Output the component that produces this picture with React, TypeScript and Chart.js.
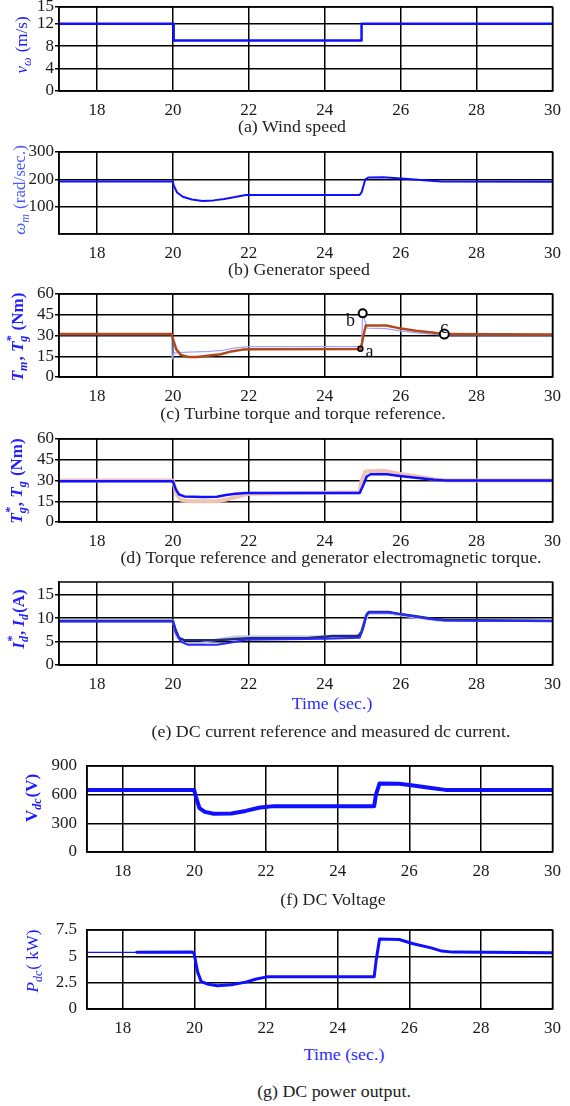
import React, { useEffect, useRef } from "react";
import { Chart, registerables } from "chart.js";

Chart.register(...registerables);

const SERIF = '"Liberation Serif", "Times New Roman", Times, serif';

// ---------------- data ----------------
const timeTicks = [18, 20, 22, 24, 26, 28, 30];

// (a) wind speed
const windT = [17, 20.02, 20.02, 24.97, 24.97, 30];
const windV = [12, 12, 9, 9, 12, 12];
const windTicks = [0, 4, 8, 12, 15];

// (b) generator speed
const speedT = [17, 20.0, 20.02, 20.11, 20.26, 20.5, 20.78, 21.07, 21.35, 21.64, 21.92, 24.92, 24.97, 25.07, 25.16, 25.54, 25.83, 26.2, 26.69, 27.07, 30];
const speedV = [192, 192, 178, 152, 136, 126, 121, 123, 128, 135, 143, 143, 152, 200, 207, 208, 205, 201, 196, 192, 191];
const speedTicks = [100, 200, 300];

// (c) turbine torque (brown) and torque reference (light blue)
const tmT = [17, 19.97, 20.02, 20.09, 20.21, 20.4, 20.64, 20.97, 21.26, 21.54, 21.83, 22.11, 24.95, 25.02, 25.08, 25.62, 25.92, 26.4, 26.88, 27.15, 30];
const tmV = [31, 31, 26, 20, 16, 14.5, 14.5, 15.5, 16.5, 18.5, 19.8, 20, 20.3, 30, 37.2, 37.2, 35.5, 33.5, 32, 31, 30.8];
const tgRefT = [17, 19.97, 19.98, 20.04, 20.4, 20.97, 21.35, 21.64, 22.02, 24.97, 25.0, 25.12, 25.62, 25.92, 26.4, 26.88, 27.1, 30];
const tgRefV = [30.7, 30.7, 13, 17.5, 18, 18.5, 19.5, 21, 22, 22, 46, 35.3, 35, 33.5, 32, 30.8, 30.5, 30.5];
const torqueTicks = [0, 15, 30, 45, 60];
const markT = [24.94, 25.0, 27.15];
const markV = [20.4, 46, 31];
const markText = ["a", "b", "c"];
const markTextT = [25.18, 24.68, 27.15];
const markTextV = [18, 40, 35.5];

// (d) torque reference (pink) and generator torque (blue)
const tgT = [17, 20.0, 20.07, 20.16, 20.3, 20.78, 21.16, 21.4, 21.64, 21.92, 24.92, 25.02, 25.11, 25.21, 25.64, 25.92, 26.4, 26.88, 27.16, 30];
const tgV = [29.5, 29.5, 24, 20, 18.5, 18, 18.2, 19.5, 20.5, 21, 21, 27, 33, 34.5, 34.5, 33.5, 32, 30.5, 30, 30];
const tgStarT = [17, 20.0, 20.1, 20.21, 20.4, 21.16, 21.45, 21.73, 22.02, 24.92, 24.97, 25.07, 25.54, 25.92, 26.4, 26.88, 27.26, 30];
const tgStarV = [30, 30, 20, 16, 15, 15, 16.5, 18.5, 20.5, 21.5, 30, 36.5, 37, 35, 33, 31, 30, 30];

// (e) dc current reference (navy), measured (blue), and light trace
const idRefT = [17, 20.0, 20.07, 20.16, 20.3, 21.16, 21.54, 22.02, 23.54, 23.83, 24.21, 24.88, 24.97, 25.09, 25.16, 25.69, 26.02, 26.4, 26.78, 27.16, 30];
const idRefV = [9.4, 9.4, 7.5, 5.8, 5.3, 5.3, 5.5, 5.7, 5.7, 5.9, 6.2, 6.2, 7, 10.5, 11.3, 11.3, 10.8, 10.4, 9.9, 9.6, 9.4];
const idT = [17, 20.0, 20.07, 20.21, 20.4, 21.16, 21.54, 21.92, 24.02, 24.92, 25.02, 25.11, 25.21, 25.69, 26.02, 26.4, 26.78, 27.16, 30];
const idV = [9.3, 9.3, 7, 5, 4.3, 4.3, 4.8, 5.4, 5.6, 5.8, 8, 11, 11.2, 11.2, 10.8, 10.3, 9.8, 9.5, 9.4];
const idGrayT = [17, 20.0, 20.1, 20.3, 20.7, 21.2, 21.6, 22.0, 24.9, 25.05, 25.15, 25.7, 26.0, 27.0, 30];
const idGrayV = [9.5, 9.5, 6, 4.6, 4.6, 5.5, 6.0, 6.1, 6.1, 9, 11, 11, 10.6, 9.5, 9.5];
const currentTicks = [0, 5, 10, 15];

// (f) dc voltage
const vdcT = [17, 19.99, 20.04, 20.14, 20.29, 20.54, 21.03, 21.43, 21.83, 22.23, 25.02, 25.07, 25.17, 25.72, 26.11, 26.61, 27.01, 30];
const vdcV = [650, 650, 580, 460, 420, 400, 402, 430, 465, 480, 480, 600, 718, 715, 695, 670, 650, 648];
const voltTicks = [0, 300, 600, 900];

// (g) dc power
const pdcT = [17, 18.39, 19.94, 19.99, 20.09, 20.19, 20.39, 20.64, 21.03, 21.43, 21.73, 22.03, 25.02, 25.07, 25.17, 25.72, 26.11, 26.61, 26.91, 27.21, 30];
const pdcV = [5.38, 5.38, 5.4, 5.3, 3.5, 2.6, 2.35, 2.2, 2.3, 2.55, 2.85, 3.05, 3.05, 4.5, 6.65, 6.6, 6.2, 5.8, 5.5, 5.4, 5.35];
const powerTicks = [0, 2.5, 5, 7.5];

// ---------------- helpers ----------------
const PAD_TOP = 30;
const X_AXIS_H = 30;
const TICK_SIZE = 17;

const pts = (t: number[], v: number[]) => t.map((x, i) => ({ x, y: v[i] }));

function line(t: number[], v: number[], color: string, width: number, order: number, extra: any = {}) {
  return {
    data: pts(t, v),
    borderColor: color,
    borderWidth: width,
    pointRadius: 0,
    tension: 0,
    fill: false,
    order,
    borderJoinStyle: "round",
    borderCapStyle: "round",
    ...extra,
  };
}

type Seg = { t?: string; sub?: string; sup?: string; it?: boolean; b?: boolean };
type Label = { segs: Seg[]; x: number; y: number; color: string };
type Spec = {
  key: string;
  top: number;
  bottom: number;
  left: number;
  right: number;
  yMin: number;
  yMax: number;
  yTicks: number[];
  tickMarks: boolean;
  datasets: any[];
  label: Label;
  marks?: boolean;
};

function richLabelPlugin(label: Label, canvasTop: number) {
  return {
    id: "richLabel",
    afterDraw(chart: any) {
      const ctx = chart.ctx as CanvasRenderingContext2D;
      const size = 17;
      const small = 12;
      const f = (s: number, sg: Seg) => `${sg.it ? "italic " : ""}${sg.b ? "bold " : ""}${s}px ${SERIF}`;
      ctx.save();
      ctx.translate(label.x, label.y - canvasTop);
      ctx.rotate(-Math.PI / 2);
      ctx.fillStyle = label.color;
      ctx.textBaseline = "alphabetic";
      ctx.textAlign = "left";
      const widths = label.segs.map((sg) => {
        if (sg.t !== undefined) {
          ctx.font = f(size, sg);
          return ctx.measureText(sg.t).width;
        }
        ctx.font = f(small, sg);
        return Math.max(sg.sub ? ctx.measureText(sg.sub).width : 0, sg.sup ? ctx.measureText(sg.sup).width : 0) + 1;
      });
      const total = widths.reduce((a, b) => a + b, 0);
      let x = -total / 2;
      const base = size * 0.33;
      label.segs.forEach((sg, i) => {
        if (sg.t !== undefined) {
          ctx.font = f(size, sg);
          ctx.fillText(sg.t, x, base);
        } else {
          ctx.font = f(small, sg);
          if (sg.sub) ctx.fillText(sg.sub, x, base + size * 0.28);
          if (sg.sup) ctx.fillText(sg.sup, x, base - size * 0.42);
        }
        x += widths[i];
      });
      ctx.restore();
    },
  };
}

const framePlugin = {
  id: "frame",
  afterDatasetsDraw(chart: any) {
    const { ctx, chartArea: a } = chart;
    ctx.save();
    ctx.strokeStyle = "#000";
    ctx.lineWidth = 1.5;
    ctx.strokeRect(a.left, a.top, a.right - a.left, a.bottom - a.top);
    ctx.restore();
  },
};

const markLabelPlugin = {
  id: "markLabels",
  afterDraw(chart: any) {
    const { ctx, scales } = chart;
    ctx.save();
    ctx.font = `18px ${SERIF}`;
    ctx.fillStyle = "#111";
    ctx.textAlign = "center";
    ctx.textBaseline = "middle";
    markText.forEach((s, i) => {
      ctx.fillText(s, scales.x.getPixelForValue(markTextT[i]), scales.y.getPixelForValue(markTextV[i]));
    });
    ctx.restore();
  },
};

function buildConfig(spec: Spec): any {
  const canvasTop = spec.top - PAD_TOP;
  const plugins: any[] = [framePlugin, richLabelPlugin(spec.label, canvasTop)];
  if (spec.marks) plugins.push(markLabelPlugin);
  return {
    type: "line",
    data: { datasets: spec.datasets },
    plugins,
    options: {
      animation: false,
      responsive: false,
      events: [],
      layout: { padding: { top: PAD_TOP, left: 0, right: 570 - spec.right, bottom: 0 } },
      plugins: { legend: { display: false }, tooltip: { enabled: false } },
      elements: { point: { radius: 0 }, line: { tension: 0 } },
      scales: {
        x: {
          type: "linear",
          min: 17,
          max: 30,
          afterBuildTicks: (s: any) => {
            s.ticks = timeTicks.map((v) => ({ value: v }));
          },
          afterFit: (s: any) => {
            s.height = X_AXIS_H;
          },
          grid: { color: "#000", lineWidth: 1.5, drawTicks: false },
          border: { display: true, color: "#000", width: 1.5 },
          ticks: {
            padding: 9,
            color: "#1a1a1a",
            font: { family: SERIF, size: TICK_SIZE },
            maxRotation: 0,
            autoSkip: false,
            callback: (v: any) => String(v),
          },
        },
        y: {
          type: "linear",
          min: spec.yMin,
          max: spec.yMax,
          afterBuildTicks: (s: any) => {
            s.ticks = spec.yTicks.map((v) => ({ value: v }));
          },
          afterFit: (s: any) => {
            s.width = spec.left;
          },
          grid: { color: "#000", lineWidth: 1.5, drawTicks: spec.tickMarks, tickLength: 4 },
          border: { display: true, color: "#000", width: 1.5 },
          ticks: {
            padding: spec.tickMarks ? 1 : 10,
            color: "#1a1a1a",
            font: { family: SERIF, size: TICK_SIZE },
            autoSkip: false,
            callback: (v: any) => String(v),
          },
        },
      },
    },
  };
}

const BLUE = "#1010ff";

const specs: Spec[] = [
  {
    key: "a", top: 7, bottom: 91, left: 59, right: 556,
    yMin: 0, yMax: 15, yTicks: windTicks, tickMarks: true,
    datasets: [line(windT, windV, BLUE, 2.5, 1)],
    label: { segs: [{ t: "v", it: true }, { sub: "ω", it: true }, { t: " (m/s)" }], x: 21, y: 45, color: "#1a1aff" },
  },
  {
    key: "b", top: 152, bottom: 234, left: 59, right: 556,
    yMin: 0, yMax: 300, yTicks: speedTicks, tickMarks: true,
    datasets: [line(speedT, speedV, BLUE, 2, 1)],
    label: { segs: [{ t: "ω", it: true }, { sub: "m", it: true }, { t: " (rad/sec.)" }], x: 19, y: 190, color: "#4a5aff" },
  },
  {
    key: "c", top: 294, bottom: 377, left: 59, right: 556,
    yMin: 0, yMax: 60, yTicks: torqueTicks, tickMarks: true,
    datasets: [
      line(tgRefT, tgRefV, "#a0a6ff", 1.3, 3),
      line(tmT, tmV, "#b04a1c", 2.5, 2),
      {
        data: pts(markT, markV),
        showLine: false,
        pointRadius: [2.5, 4, 4.5],
        pointBackgroundColor: ["#c0501e", "#ffffff", "#ffffff"],
        pointBorderColor: "#000",
        pointBorderWidth: [1.5, 2, 2],
        order: 0,
      },
    ],
    marks: true,
    label: {
      segs: [
        { t: "T", it: true, b: true }, { sub: "m", it: true, b: true }, { t: ", ", b: true },
        { t: "T", it: true, b: true }, { sup: "*", sub: "g", it: true, b: true }, { t: " (Nm)", b: true },
      ],
      x: 17, y: 337, color: "#2020ff",
    },
  },
  {
    key: "d", top: 439, bottom: 522, left: 59, right: 556,
    yMin: 0, yMax: 60, yTicks: torqueTicks, tickMarks: true,
    datasets: [line(tgStarT, tgStarV, "#efc2b4", 4, 2), line(tgT, tgV, BLUE, 2.5, 1)],
    label: {
      segs: [
        { t: "T", it: true, b: true }, { sup: "*", sub: "g", it: true, b: true }, { t: ", ", b: true },
        { t: "T", it: true, b: true }, { sub: "g", it: true, b: true }, { t: " (Nm)", b: true },
      ],
      x: 16, y: 481, color: "#2020ff",
    },
  },
  {
    key: "e", top: 582, bottom: 665, left: 59, right: 556,
    yMin: 0, yMax: 17.7, yTicks: currentTicks, tickMarks: true,
    datasets: [
      line(idGrayT, idGrayV, "#c4cae2", 2.5, 3),
      line(idRefT, idRefV, "#1e2a7a", 2.5, 2),
      line(idT, idV, "#2a2aff", 2, 1),
    ],
    label: {
      segs: [
        { t: "I", it: true, b: true }, { sup: "*", sub: "d", it: true, b: true }, { t: ", ", b: true },
        { t: "I", it: true, b: true }, { sub: "d", it: true, b: true }, { t: "(A)", b: true },
      ],
      x: 18, y: 619, color: "#2020ff",
    },
  },
  {
    key: "f", top: 766, bottom: 852, left: 87, right: 560,
    yMin: 0, yMax: 900, yTicks: voltTicks, tickMarks: false,
    datasets: [line(vdcT, vdcV, BLUE, 4, 1)],
    label: { segs: [{ t: "V", b: true }, { sub: "dc", it: true, b: true }, { t: "(V)", b: true }], x: 31, y: 798, color: "#1a1aff" },
  },
  {
    key: "g", top: 930, bottom: 1009, left: 87, right: 560,
    yMin: 0, yMax: 7.5, yTicks: powerTicks, tickMarks: false,
    datasets: [
      line(pdcT, pdcV, BLUE, 3, 1, {
        segment: { borderWidth: (c: any) => (c.p1.parsed.x <= 18.4 ? 1.2 : 3) },
      }),
    ],
    label: { segs: [{ t: "P", it: true }, { sub: "dc", it: true }, { t: "( kW)" }], x: 32, y: 961, color: "#1a1aff" },
  },
];

const texts = [
  { text: "(a) Wind speed", x: 292, y: 127, blue: false },
  { text: "(b) Generator speed", x: 299, y: 270, blue: false },
  { text: "(c) Turbine torque and torque reference.", x: 303, y: 414, blue: false },
  { text: "(d) Torque reference and generator electromagnetic torque.", x: 331, y: 558, blue: false },
  { text: "Time (sec.)", x: 332, y: 704, blue: true },
  { text: "(e) DC current reference and measured dc current.", x: 331, y: 732, blue: false },
  { text: "(f) DC Voltage", x: 333, y: 900, blue: false },
  { text: "Time (sec.)", x: 344, y: 1055, blue: true },
  { text: "(g) DC power output.", x: 334, y: 1092, blue: false },
];

function Panel({ spec }: { spec: Spec }) {
  const ref = useRef<HTMLCanvasElement | null>(null);
  useEffect(() => {
    if (!ref.current) return;
    const chart = new Chart(ref.current, buildConfig(spec));
    return () => chart.destroy();
  }, [spec]);
  const canvasTop = spec.top - PAD_TOP;
  const h = spec.bottom - spec.top + PAD_TOP + X_AXIS_H;
  return (
    <canvas
      ref={ref}
      width={570}
      height={h}
      style={{ position: "absolute", left: 0, top: canvasTop, width: 570, height: h }}
    />
  );
}

export default function App() {
  return (
    <div style={{ position: "absolute", left: 0, top: 0, width: 570, height: 1106, background: "#fff", overflow: "hidden" }}>
      {specs.map((s) => (
        <Panel key={s.key} spec={s} />
      ))}
      {texts.map((t, i) => (
        <div
          key={i}
          style={{
            position: "absolute",
            left: t.x - 300,
            top: t.y - 10,
            width: 600,
            height: 20,
            lineHeight: "20px",
            textAlign: "center",
            fontFamily: SERIF,
            fontSize: 17,
            color: t.blue ? "#2a2aff" : "#222",
            whiteSpace: "nowrap",
            transform: "scaleX(1.05)",
          }}
        >
          {t.text}
        </div>
      ))}
    </div>
  );
}
